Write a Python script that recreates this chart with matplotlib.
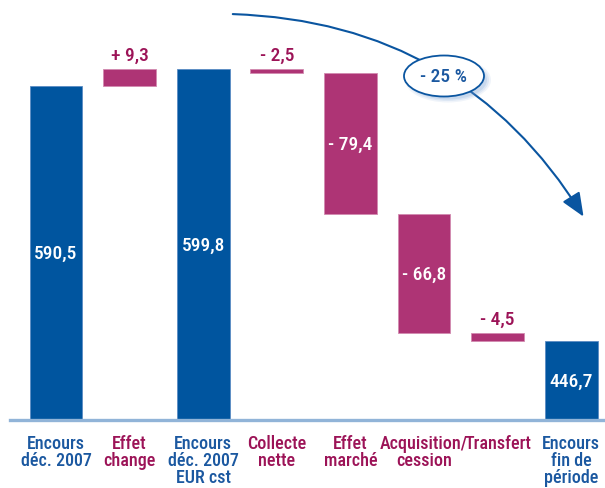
import matplotlib
matplotlib.use("Agg")
import matplotlib.pyplot as plt
from matplotlib.patches import Ellipse, FancyArrowPatch
import numpy as np

plt.rcParams['font.family'] = ['Roboto Condensed', 'DejaVu Sans']

categories = ["Encours\ndéc. 2007", "Effet\nchange", "Encours\ndéc. 2007\nEUR cst",
              "Collecte\nnette", "Effet\nmarché", "Acquisition/\ncession",
              "Transfert", "Encours\nfin de\npériode"]
values = [590.5, 9.3, 599.8, -2.5, -79.4, -66.8, -4.5, 446.7]
is_total = [True, False, True, False, False, False, False, True]
value_labels = ["590,5", "+ 9,3", "599,8", "- 2,5", "- 79,4", "- 66,8", "- 4,5", "446,7"]
change_label = "- 25 %"

BLUE = "#00559f"
MAG = "#ae3475"
MAG_TXT = "#9c1357"
BLUE_TXT = "#1b58a0"

W, H = 605, 489
fig = plt.figure(figsize=(W / 100, H / 100), dpi=100)
base_px = 422
ax = fig.add_axes([0, (H - base_px) / H, 1, base_px / H])
ymin = 401.5
scale = 1.775
ax.set_ylim(ymin, ymin + base_px / scale)
x0, dx = 56, 73.6
ax.set_xlim((0 - x0) / dx, (W - x0) / dx)
ax.axis("off")

x = np.arange(len(values))
running = 0.0
bw = 0.72
for i, (v, tot) in enumerate(zip(values, is_total)):
    if tot:
        ax.bar(x[i], v, bottom=0, width=bw, color=BLUE, edgecolor="#5b8cc4", linewidth=0.6)
        running = v
        ax.text(x[i], (ymin + v) / 2, value_labels[i], ha="center", va="center",
                color="white", fontsize=14, fontweight=500)
    else:
        bottom = running if v > 0 else running + v
        top = running + v if v > 0 else running
        ax.bar(x[i], abs(v), bottom=bottom, width=bw, color=MAG, edgecolor="#d28ab0", linewidth=0.6)
        if abs(v) > 20:
            ax.text(x[i], (bottom + top) / 2, value_labels[i], ha="center", va="center",
                    color="white", fontsize=14, fontweight=500)
        else:
            ax.annotate(value_labels[i], (x[i], top), xytext=(0, 4), textcoords="offset points",
                        ha="center", va="bottom", color=MAG_TXT, fontsize=14, fontweight=500)
        running += v

# baseline
ax.axhline(ymin + 0.4, xmin=10 / W, xmax=1, color="#91b4d8", linewidth=2.4, clip_on=False)

# category labels
for i, c in enumerate(categories):
    col = BLUE_TXT if is_total[i] else MAG_TXT
    fig.text((x0 + dx * i) / W, 1 - 435 / H, c, ha="center", va="top", color=col,
             fontsize=13, fontweight=500, linespacing=0.92)

# curved arrow
arrow = FancyArrowPatch((230, H - 15), (585, H - 220), transform=None,
                        connectionstyle="arc3,rad=-0.27",
                        arrowstyle="-|>,head_length=0.9,head_width=0.38",
                        mutation_scale=16, color="#0a55a0", linewidth=1.5)
fig.add_artist(arrow)

# ellipse with shadow
for k, a in enumerate([0.10, 0.14, 0.18]):
    sh = Ellipse((448, H - 81), 86 - 4 * k, 45 - 3 * k, transform=None,
                 facecolor="#6f9bd0", edgecolor="none", alpha=a)
    fig.add_artist(sh)
ell = Ellipse((444, H - 77), 80, 41, transform=None, facecolor="white",
              edgecolor="#0a55a0", linewidth=1.3)
fig.add_artist(ell)
fig.text(444 / W, 1 - 77 / H, change_label, ha="center", va="center", color=BLUE_TXT,
         fontsize=14, fontweight=500)

fig.savefig("out.png", dpi=100)
